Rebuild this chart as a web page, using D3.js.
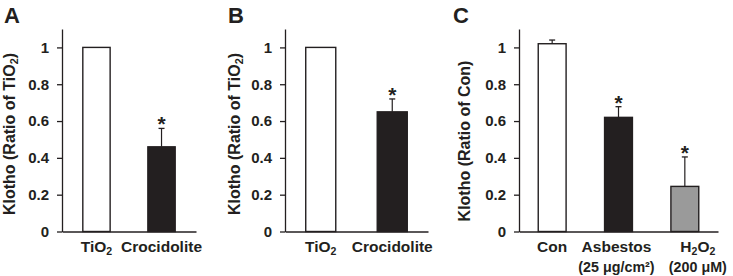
<!DOCTYPE html>
<html>
<head>
<meta charset="utf-8">
<script src="https://cdn.jsdelivr.net/npm/d3@7"></script>
<style>
  body { margin: 0; background: #fff; }
  svg { display: block; font-family: "Liberation Sans", Arial, sans-serif; font-weight: bold; }
</style>
</head>
<body>
<div id="chart"></div>
<script>
// data
const catsA = ["TiO2", "Crocidolite"];
const valsA = [1.0, 0.46];
const errA = [0, 0.10];
const starA = [false, true];

const catsB = ["TiO2", "Crocidolite"];
const valsB = [1.0, 0.65];
const errB = [0, 0.07];
const starB = [false, true];

const catsC = [["Con"], ["Asbestos", "(25 μg/cm²)"], ["H2O2", "(200 μM)"]];
const valsC = [1.02, 0.62, 0.245];
const errC = [0.02, 0.058, 0.16];
const starC = [false, true, true];

const yTicks = [0, 0.2, 0.4, 0.6, 0.8, 1];
const yLabels = ["Klotho (Ratio of TiO2)", "Klotho (Ratio of TiO2)", "Klotho (Ratio of Con)"];
const letters = ["A", "B", "C"];

const W = 733, H = 276;
const ink = "#231f20";

const svg = d3.select('#chart').append('svg')
    .attr('width', W)
    .attr('height', H);

const y = d3.scaleLinear().domain([0, 1.1]).range([231.5, 29]);

// writes "TiO2" style text with subscripts into a text element
function richText(sel, str) {
    const parts = str.split(/(?<=[A-Za-z])(\d)/);
    parts.forEach((p, i) => {
        if (p === "") return;
        const t = sel.append('tspan').text(p);
        if (i % 2 === 1) {
            t.attr('baseline-shift', '-28%').style('font-size', '68%');
        }
    });
}

const panels = [
    { cats: catsA.map(d => [d]), vals: valsA, errs: errA, stars: starA, fills: ["#fff", ink],
      left: 62, right: 196, pad: 0.53, labelShift: [0, 0], letterX: 4, labelX: 15, labelY: 134 },
    { cats: catsB.map(d => [d]), vals: valsB, errs: errB, stars: starB, fills: ["#fff", ink],
      left: 285, right: 428, pad: 0.5, labelShift: [0, 0], letterX: 228, labelX: 240, labelY: 134 },
    { cats: catsC, vals: valsC, errs: errC, stars: starC, fills: ["#fff", ink, "#9a9a9a"],
      left: 519, right: 718, pad: 0.5, labelShift: [0, -2, 13], letterX: 453, labelX: 470, labelY: 141 }
];

panels.forEach((p, pi) => {
    const g = svg.append('g');
    const keys = p.cats.map((c, i) => i);
    const x = d3.scalePoint().domain(keys).range([p.left, p.right]).padding(p.pad);
    const bw = x.step() * 0.42;

    // y axis
    const yAxis = g.append('g')
        .attr('transform', `translate(${p.left},0)`)
        .call(d3.axisLeft(y).tickValues(yTicks).tickSize(5).tickSizeOuter(0).tickPadding(8).tickFormat(d => String(d)));
    yAxis.selectAll('path, line').attr('stroke', ink).attr('stroke-width', 1.3);
    yAxis.selectAll('text').attr('fill', ink).style('font-size', '15px').style('font-family', 'inherit');

    // baseline
    const xAxis = g.append('g')
        .attr('transform', `translate(0,${y(0)})`)
        .call(d3.axisBottom(x).tickSize(0).tickSizeOuter(0).tickFormat(''));
    xAxis.select('path').attr('stroke', ink).attr('stroke-width', 1.3);

    // bars
    g.selectAll('rect.bar')
        .data(keys)
        .join('rect')
        .attr('class', 'bar')
        .attr('x', i => x(i) - bw / 2)
        .attr('y', i => y(p.vals[i]))
        .attr('width', bw)
        .attr('height', i => y(0) - y(p.vals[i]))
        .attr('fill', i => p.fills[i])
        .attr('stroke', ink)
        .attr('stroke-width', 1.4);

    // error bars (upper only)
    keys.filter(i => p.errs[i] > 0).forEach(i => {
        const top = y(p.vals[i] + p.errs[i]);
        g.append('line')
            .attr('x1', x(i)).attr('x2', x(i))
            .attr('y1', y(p.vals[i])).attr('y2', top)
            .attr('stroke', ink).attr('stroke-width', 1.2);
        g.append('line')
            .attr('x1', x(i) - 3).attr('x2', x(i) + 3)
            .attr('y1', top).attr('y2', top)
            .attr('stroke', ink).attr('stroke-width', 1.3);
    });

    // significance stars
    keys.filter(i => p.stars[i]).forEach(i => {
        g.append('text')
            .attr('x', x(i))
            .attr('y', y(p.vals[i] + p.errs[i]) + 3)
            .attr('text-anchor', 'middle')
            .attr('fill', ink)
            .style('font-size', '21px')
            .text('*');
    });

    // category labels
    keys.forEach(i => {
        p.cats[i].forEach((line, li) => {
            const t = g.append('text')
                .attr('x', x(i) + (p.labelShift[i] || 0))
                .attr('y', 251.5 + li * 20)
                .attr('text-anchor', 'middle')
                .attr('fill', ink)
                .style('font-size', li === 0 ? '15.5px' : '14.3px');
            richText(t, line);
        });
    });

    // y label
    const yl = g.append('text')
        .attr('transform', `translate(${p.labelX},${p.labelY}) rotate(-90)`)
        .attr('text-anchor', 'middle')
        .attr('fill', ink)
        .style('font-size', '16px');
    richText(yl, yLabels[pi]);

    // panel letter
    g.append('text')
        .attr('x', p.letterX)
        .attr('y', 23)
        .attr('fill', ink)
        .style('font-size', '22px')
        .text(letters[pi]);
});
</script>
</body>
</html>
